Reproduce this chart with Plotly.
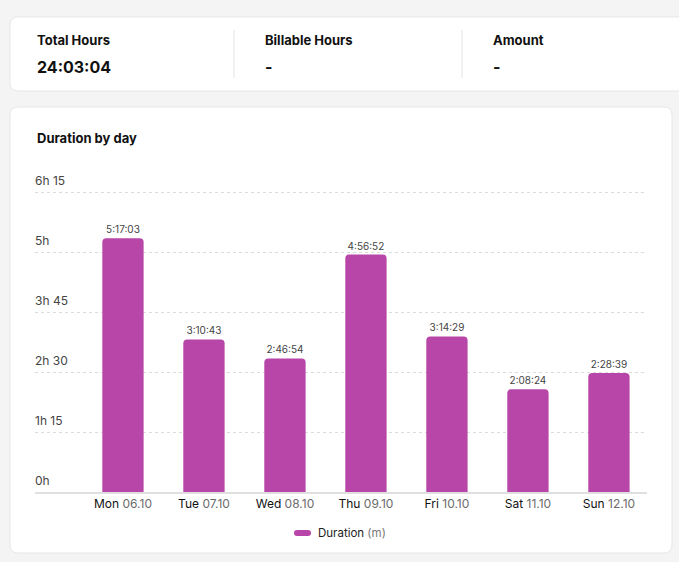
import re
import plotly.graph_objects as go

days = ["Mon", "Tue", "Wed", "Thu", "Fri", "Sat", "Sun"]
dates = ["06.10", "07.10", "08.10", "09.10", "10.10", "11.10", "12.10"]
durations = ["5:17:03", "3:10:43", "2:46:54", "4:56:52", "3:14:29", "2:08:24", "2:28:39"]
tick_vals = [0, 75, 150, 225, 300, 375]
tick_text = ["0h", "1h 15", "2h 30", "3h 45", "5h", "6h 15"]

summary_labels = ["Total Hours", "Billable Hours", "Amount"]
summary_values = ["24:03:04", "-", "-"]


def to_minutes(s):
    h, m, sec = (int(p) for p in s.split(":"))
    return h * 60 + m + sec / 60


minutes = [to_minutes(d) for d in durations]
cats = list(range(len(days)))
tick_labels = [f"{d} <span style='color:#6b6b6b'>{dt}</span>" for d, dt in zip(days, dates)]

W, H = 679, 562
BAR = "#b845a8"
# plot area in page pixels
PL, PR, PB = 35, 647, 492
YMAX = 400
PT = PB - YMAX * 0.8  # 75 min = 60 px


def px_x(x):
    return (x - PL) / (PR - PL)


def px_y(y):
    return (PB - y) / (PB - PT)


def round_rect(x0, y0, x1, y1, r):
    return (f"M{x0+r},{y0} L{x1-r},{y0} Q{x1},{y0} {x1},{y0+r} L{x1},{y1-r} Q{x1},{y1} {x1-r},{y1} "
            f"L{x0+r},{y1} Q{x0},{y1} {x0},{y1-r} L{x0},{y0+r} Q{x0},{y0} {x0+r},{y0} Z")


def to_paper(path):
    return re.sub(r"(-?[\d.]+),(-?[\d.]+)",
                  lambda m: f"{px_x(float(m.group(1))):.5f},{px_y(float(m.group(2))):.5f}", path)


fig = go.Figure()
fig.add_trace(go.Bar(
    x=cats, y=minutes, width=0.51,
    marker=dict(color=BAR, line=dict(width=0)),
    text=durations, textposition="outside", cliponaxis=False,
    textfont=dict(size=10, color="#444", family="Inter"),
    showlegend=False, hoverinfo="skip",
))

shapes = [
    # summary card
    dict(type="path", layer="below", path=to_paper(round_rect(10, 17, 700, 91, 8)),
         fillcolor="white", line=dict(color="#e6e6e6", width=1)),
    dict(type="line", x0=px_x(234), x1=px_x(234), y0=px_y(30), y1=px_y(78), line=dict(color="#e4e4e4", width=1)),
    dict(type="line", x0=px_x(462), x1=px_x(462), y0=px_y(30), y1=px_y(78), line=dict(color="#e4e4e4", width=1)),
    # chart card
    dict(type="path", layer="below", path=to_paper(round_rect(10, 107, 672, 553, 8)),
         fillcolor="white", line=dict(color="#e6e6e6", width=1)),
    # legend pill
    dict(type="path", layer="above", path=to_paper(round_rect(294, 530, 311, 536, 3)),
         fillcolor=BAR, line=dict(width=0)),
]
for s in shapes:
    s["xref"] = "paper"
    s["yref"] = "paper"


def label(x, y, text, size, color="#111"):
    return dict(x=px_x(x), y=px_y(y), text=text, showarrow=False, xanchor="left", yanchor="middle",
                xref="paper", yref="paper", font=dict(size=size, color=color, family="Inter"))


annotations = []
for x, lab, val in zip([35, 263, 491], summary_labels, summary_values):
    annotations.append(label(x, 40, f"<b>{lab}</b>", 13))
    annotations.append(label(x, 67, f"<b>{val}</b>", 16))
annotations.append(label(35, 138, "<b>Duration by day</b>", 13))
annotations.append(label(316, 533, "Duration <span style='color:#777'>(m)</span>", 11.5, "#222"))

fig.update_layout(
    width=W, height=H,
    margin=dict(l=PL, r=W - PR, t=PT, b=H - PB, pad=0),
    paper_bgcolor="#f4f4f4", plot_bgcolor="rgba(0,0,0,0)",
    font=dict(family="Inter", color="#333"),
    barcornerradius=4,
    shapes=shapes, annotations=annotations,
    xaxis=dict(range=[-1.086, 6.47], tickmode="array", tickvals=cats, ticktext=tick_labels,
               showgrid=False, zeroline=False, showline=True, linecolor="#e0e0e0", linewidth=2,
               ticks="", tickfont=dict(size=12, color="#111", family="Inter"), fixedrange=True),
    yaxis=dict(range=[0, YMAX], tickmode="array", tickvals=tick_vals, ticktext=tick_text,
               ticklabelposition="inside top", ticklabelstandoff=-3, ticklabelshift=-3,
               showgrid=True, gridcolor="#dcdcdc", griddash="dot",
               gridwidth=1, zeroline=False, showline=False, ticks="",
               tickfont=dict(size=12, color="#444", family="Inter"), fixedrange=True),
)

fig.write_html("out.html", config={"displayModeBar": False},
               post_script="document.body.style.margin='0px';")
